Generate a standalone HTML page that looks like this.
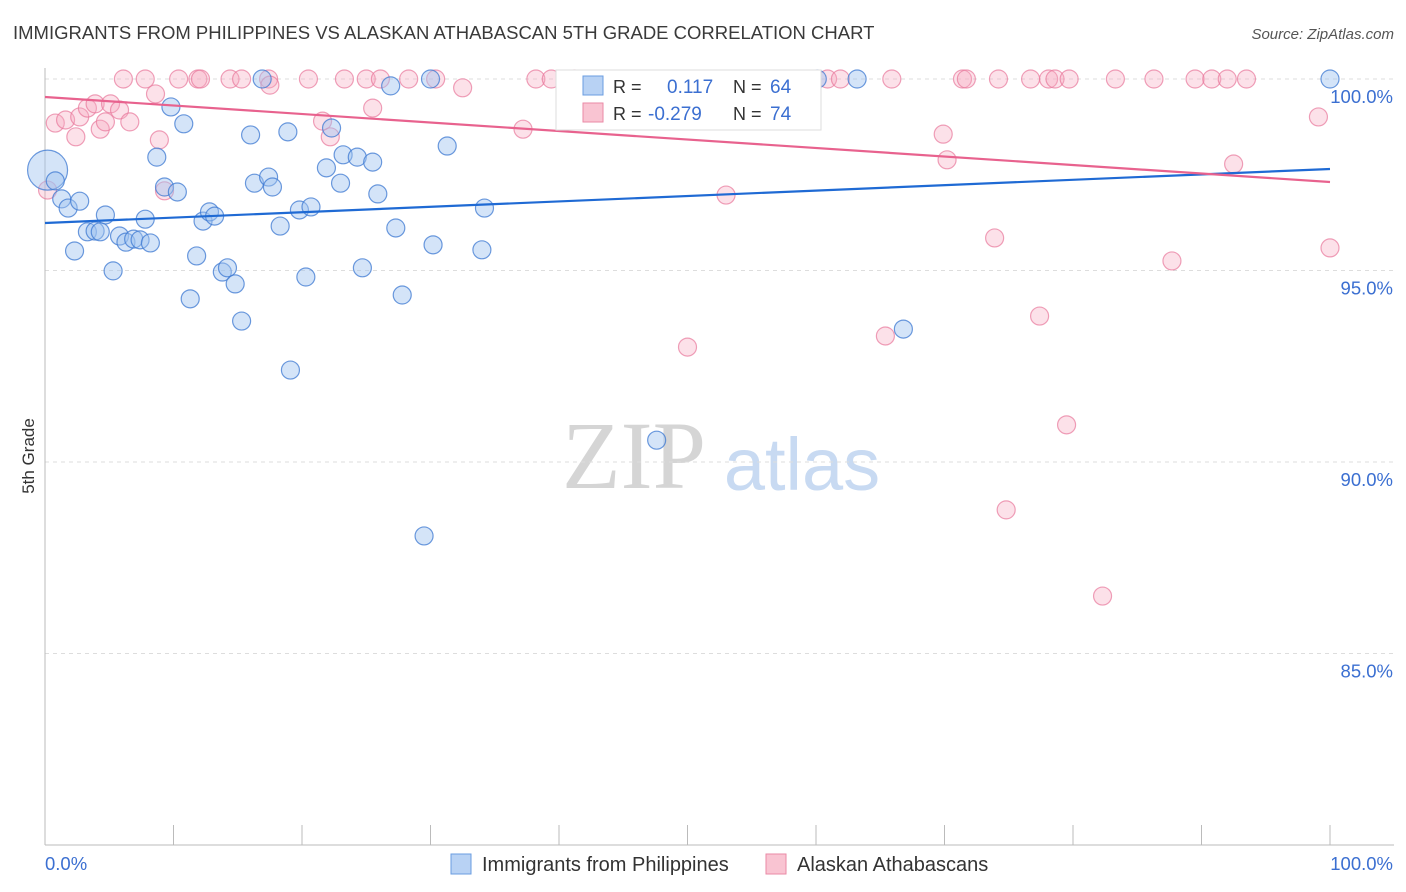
<!DOCTYPE html>
<html><head><meta charset="utf-8"><style>
body{margin:0;background:#fff;font-family:"Liberation Sans",sans-serif;}
svg{display:block}
</style></head><body>
<svg id="chart" width="1406" height="892" xmlns="http://www.w3.org/2000/svg">
<text x="13" y="39" font-size="18.5" fill="#3a3a3a">IMMIGRANTS FROM PHILIPPINES VS ALASKAN ATHABASCAN 5TH GRADE CORRELATION CHART</text>
<text x="1394" y="39" font-size="15" fill="#555" text-anchor="end" font-style="italic">Source: ZipAtlas.com</text>
<g>
<text x="634" y="488" font-size="96" fill="#d5d5d5" font-family="Liberation Serif,serif" text-anchor="middle">ZIP</text>
<text x="802" y="490" font-size="74" fill="#c8daf2" text-anchor="middle">atlas</text>
</g>
<g id="grid"></g>
<g id="axes"></g>
<g id="marks"></g>
<text transform="translate(34,456) rotate(-90)" font-size="17" fill="#333" text-anchor="middle">5th Grade</text>
<g>
<rect x="556" y="70" width="265" height="60" fill="#fff" stroke="#ddd"/>
<rect x="583" y="76" width="20" height="19" fill="#b8d2f4" stroke="#6a9ce0"/>
<text x="613" y="93" font-size="18" fill="#333">R =</text>
<text x="667" y="93" font-size="19" fill="#3b6fd1">0.117</text>
<text x="733" y="93" font-size="18" fill="#333">N =</text>
<text x="770" y="93" font-size="19" fill="#3b6fd1">64</text>
<rect x="583" y="103" width="20" height="19" fill="#f9c4d2" stroke="#ea8aa6"/>
<text x="613" y="120" font-size="18" fill="#333">R =</text>
<text x="648" y="120" font-size="19" fill="#3b6fd1">-0.279</text>
<text x="733" y="120" font-size="18" fill="#333">N =</text>
<text x="770" y="120" font-size="19" fill="#3b6fd1">74</text>
</g>
<g>
<rect x="451" y="854" width="20" height="20" fill="#b8d2f4" stroke="#6a9ce0"/>
<text x="482" y="871" font-size="20" fill="#333">Immigrants from Philippines</text>
<rect x="766" y="854" width="20" height="20" fill="#f9c4d2" stroke="#ea8aa6"/>
<text x="797" y="871" font-size="20" fill="#333">Alaskan Athabascans</text>
</g>
</svg>
<script>
const yTicks=[100,95,90,85];
const yTickLabels=["100.0%","95.0%","90.0%","85.0%"];
const xTicks=[0,10,20,30,40,50,60,70,80,90,100];
const blueX=[0.2,0.8,1.3,1.8,2.7,4.7,2.3,3.3,3.9,4.3,5.3,5.8,6.3,6.9,7.4,8.2,7.8,8.7,9.3,9.8,10.3,10.8,11.3,11.8,12.3,12.8,13.2,13.8,14.2,14.8,15.3,16.0,16.3,16.9,17.4,17.7,18.3,18.9,19.1,19.8,20.3,20.7,21.9,22.3,23.0,23.2,24.3,24.7,25.5,25.9,26.9,27.3,27.8,29.5,30.0,30.2,31.3,34.0,34.2,47.6,60.1,63.2,66.8,100];
const blueY=[97.62,97.34,96.87,96.63,96.81,96.45,95.51,96.01,96.03,96.01,94.99,95.90,95.74,95.82,95.80,95.72,96.34,97.96,97.18,99.27,97.05,98.83,94.26,95.38,96.29,96.53,96.42,94.96,95.07,94.65,93.68,98.54,97.28,100,97.44,97.18,96.16,98.62,92.40,96.58,94.83,96.66,97.68,98.72,97.28,98.02,97.96,95.07,97.83,97.00,99.82,96.11,94.36,88.07,100,95.67,98.25,95.54,96.63,90.57,100,100,93.47,100];
const pinkX=[6.1,7.8,10.4,11.9,12.1,14.4,15.3,17.4,20.5,23.3,25.0,26.1,28.3,30.4,38.2,39.4,41.2,60.9,61.9,65.9,71.4,71.7,74.2,76.7,78.1,78.6,79.7,83.3,86.3,89.5,90.8,92.0,93.5,
0.2,0.8,1.6,2.4,2.7,3.3,3.9,4.3,4.7,5.1,5.8,6.6,8.6,8.9,9.3,17.5,21.6,22.2,25.5,32.5,37.2,50.0,53.0,65.4,69.9,70.2,73.9,74.8,77.4,79.5,82.3,87.7,92.5,99.1,100];
const pinkY=[100,100,100,100,100,100,100,100,100,100,100,100,100,100,100,100,100,100,100,100,100,100,100,100,100,100,100,100,100,100,100,100,100,
97.10,98.85,98.93,98.49,99.01,99.24,99.35,98.69,98.88,99.35,99.19,98.88,99.61,98.41,97.08,99.84,98.90,98.49,99.24,99.77,98.69,93.00,96.97,93.29,98.56,97.89,95.85,88.75,93.81,90.97,86.50,95.25,97.78,99.01,95.59];
const blueTrend=[96.24,97.65];
const pinkTrend=[99.53,97.31];

const NS="http://www.w3.org/2000/svg";
const X0=45,X1=1330,Y100=79,PX5=191.5;
function sx(v){return X0+(X1-X0)*v/100;}
function sy(v){return Y100+(100-v)/5*PX5;}
function mk(t,a,p){const e=document.createElementNS(NS,t);for(const k in a)e.setAttribute(k,a[k]);p.appendChild(e);return e;}
const grid=document.getElementById('grid'),axes=document.getElementById('axes'),marks=document.getElementById('marks');
yTicks.forEach((v,i)=>{
 const l=mk('line',{x1:X0,x2:1394,y1:sy(v),y2:sy(v),stroke:'#ddd','stroke-dasharray':'4,4'},grid);
 
 
 const t=mk('text',{x:1393,y:sy(v)+24,'font-size':18.5,fill:'#3b6fd1','text-anchor':'end'},axes);
 t.textContent=yTickLabels[i];
 
 
});
const la=mk('line',{x1:X0,x2:X0,y1:68,y2:845,stroke:'#bbb'},axes);


const ba=mk('line',{x1:X0,x2:1394,y1:845,y2:845,stroke:'#bbb'},axes);


xTicks.forEach(v=>{
 const t=mk('line',{x1:sx(v),x2:sx(v),y1:825,y2:845,stroke:'#bbb'},axes);
 
 
});
const xl=mk('text',{x:45,y:870,'font-size':18.5,fill:'#3b6fd1'},axes);xl.textContent='0.0%';


const xr=mk('text',{x:1393,y:870,'font-size':18.5,fill:'#3b6fd1','text-anchor':'end'},axes);xr.textContent='100.0%';


pinkX.forEach((x,i)=>{
 const c=mk('circle',{cx:sx(x),cy:sy(pinkY[i]),r:9,fill:'rgba(247,170,192,0.35)',stroke:'rgba(232,120,155,0.7)','stroke-width':1.2},marks);
 
 
});
blueX.forEach((x,i)=>{
 const c=mk('circle',{cx:sx(x),cy:sy(blueY[i]),r:i==0?20:9,fill:'rgba(160,195,240,0.45)',stroke:'rgba(60,120,210,0.75)','stroke-width':1.2},marks);
 
 
});
const bt=mk('line',{x1:sx(0),x2:sx(100),y1:sy(blueTrend[0]),y2:sy(blueTrend[1]),stroke:'#1f6ad4','stroke-width':2.2},marks);


const pt=mk('line',{x1:sx(0),x2:sx(100),y1:sy(pinkTrend[0]),y2:sy(pinkTrend[1]),stroke:'#e8628e','stroke-width':2.2},marks);


</script>
</body></html>
